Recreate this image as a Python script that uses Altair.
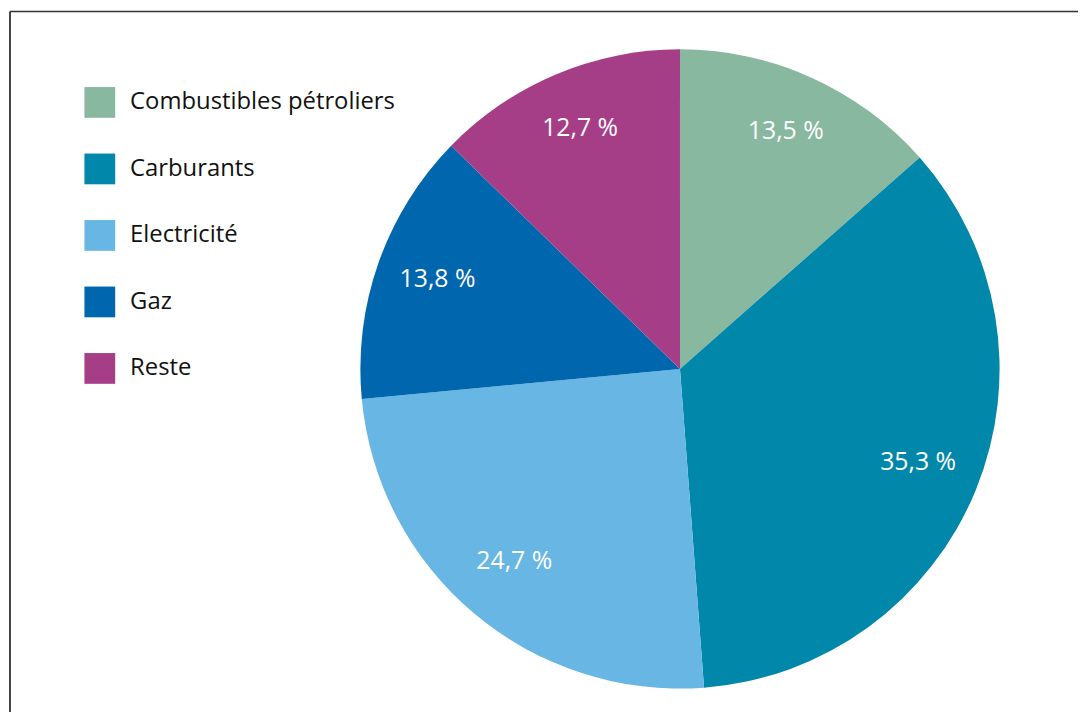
import altair as alt
import pandas as pd

categories = ["Combustibles pétroliers", "Carburants", "Electricité", "Gaz", "Reste"]
shares = [13.5, 35.3, 24.7, 13.8, 12.7]
labels = ["13,5 %", "35,3 %", "24,7 %", "13,8 %", "12,7 %"]
colors = ["#88B8A0", "#0087A9", "#67B6E4", "#0066AE", "#A53E87"]

df = pd.DataFrame({
    "cat": categories,
    "share": shares,
    "label": labels,
    "idx": list(range(len(categories))),
})

W, H = 1078, 704
CX, CY = 677, 361
FONT = "Open Sans"

base = alt.Chart(df).encode(
    theta=alt.Theta("share:Q", stack=True),
    order=alt.Order("idx:Q"),
)

pie = base.mark_arc(outerRadius=322, stroke=None).encode(
    x=alt.value(CX),
    y=alt.value(CY),
    color=alt.Color(
        "cat:N",
        scale=alt.Scale(domain=categories, range=colors),
        legend=alt.Legend(
            title=None,
            orient="none",
            legendX=77,
            legendY=77,
            padding=0,
            symbolType="square",
            symbolSize=961,
            symbolStrokeWidth=0,
            symbolOpacity=1,
            labelFontSize=24,
            labelFont=FONT,
            labelColor="#111111",
            labelOffset=15,
            rowPadding=36,
            labelLimit=500,
        ),
    ),
)

text = base.mark_text(radius=259, dy=-4, fontSize=25, font=FONT, color="white").encode(
    x=alt.value(CX),
    y=alt.value(CY),
    text="label:N",
)

frame_df = pd.DataFrame({"k": [0]})
top_line = alt.Chart(frame_df).mark_rule(color="#333333", strokeWidth=1.5).encode(
    x=alt.value(2), x2=alt.value(W), y=alt.value(1)
)
left_line = alt.Chart(frame_df).mark_rule(color="#444444", strokeWidth=2).encode(
    x=alt.value(2), y=alt.value(1), y2=alt.value(H + 8)
)

chart = alt.layer(pie, text, top_line, left_line).properties(
    width=W, height=H, autosize=alt.AutoSizeParams(type="none"), padding=0
).configure_view(stroke=None)

chart.save("out.html", embed_options={"renderer": "svg", "actions": False})
